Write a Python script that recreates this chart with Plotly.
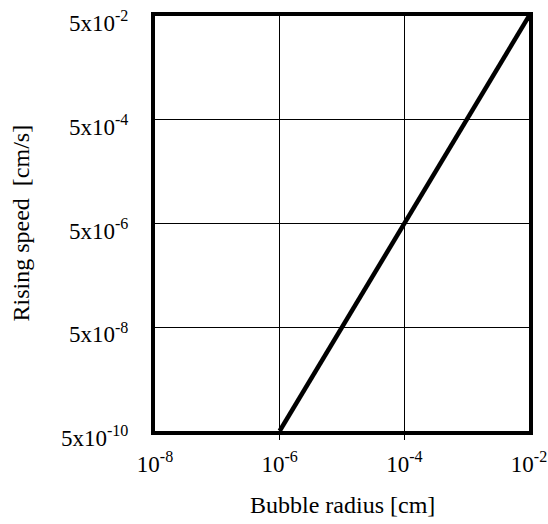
import plotly.graph_objects as go

# Data
radius_cm = [1e-6, 1e-2]
speed_cm_s = [5e-10, 5e-2]

x_tickvals = [1e-8, 1e-6, 1e-4, 1e-2]
x_ticktext = ["10<sup>-8</sup>", "10<sup>-6</sup>", "10<sup>-4</sup>", "10<sup>-2</sup>"]
x_inner_ticks = [1e-6, 1e-4]
y_tickvals = [5e-10, 5e-8, 5e-6, 5e-4, 5e-2]
y_ticktext = ["5x10<sup>-10</sup>", "5x10<sup>-8</sup>", "5x10<sup>-6</sup>",
              "5x10<sup>-4</sup>", "5x10<sup>-2</sup>"]
x_title = "Bubble radius [cm]"
y_title = "Rising speed\u00a0 [cm/s]"

FONT = "Liberation Serif"
FS = 23
FS_TITLE = 24

fig = go.Figure()
fig.add_trace(go.Scatter(x=radius_cm, y=speed_cm_s, mode="lines",
                         line=dict(color="black", width=4.5),
                         hoverinfo="skip", showlegend=False, cliponaxis=False))
# invisible trace so the tick-only overlay axis is drawn
fig.add_trace(go.Scatter(x=radius_cm, y=speed_cm_s, mode="lines", xaxis="x2",
                         line=dict(color="rgba(0,0,0,0)", width=0),
                         hoverinfo="skip", showlegend=False))

fig.update_layout(
    width=548, height=524,
    margin=dict(l=155, r=19, t=16, b=93),
    paper_bgcolor="white", plot_bgcolor="white",
    font=dict(family=FONT, color="black", size=FS),
    xaxis=dict(type="log", range=[-8, -2], tickvals=x_tickvals, ticktext=x_ticktext,
               showgrid=True, gridcolor="black", gridwidth=1,
               showline=True, linecolor="black", linewidth=4, mirror=True,
               ticks="", zeroline=False, ticklabelstandoff=9, automargin=False,
               ticklabeloverflow="allow",
               tickfont=dict(family=FONT, size=FS)),
    xaxis2=dict(type="log", range=[-8, -2], overlaying="x", anchor="y", side="bottom",
                tickvals=x_inner_ticks, ticks="outside", ticklen=8, tickwidth=1,
                tickcolor="black", showticklabels=False, showgrid=False,
                showline=False, zeroline=False, automargin=False),
    yaxis=dict(type="log", range=[-9.30103, -1.30103], tickvals=y_tickvals, ticktext=y_ticktext,
               showgrid=True, gridcolor="black", gridwidth=1,
               showline=True, linecolor="black", linewidth=4, mirror=True,
               ticks="", zeroline=False, ticklabelstandoff=18, ticklabelshift=7,
               automargin=False, ticklabeloverflow="allow",
               tickfont=dict(family=FONT, size=FS)),
    annotations=[
        dict(text=x_title, xref="paper", yref="paper", x=0.5, y=0, xanchor="center",
             yanchor="middle", yshift=-74, showarrow=False,
             font=dict(family=FONT, size=FS_TITLE, color="black")),
        dict(text=y_title, xref="paper", yref="paper", x=0, y=0.5, xanchor="center",
             yanchor="middle", xshift=-135, textangle=-90, showarrow=False,
             font=dict(family=FONT, size=FS_TITLE, color="black")),
    ],
)

fig.write_html(
    "out.html",
    config={"displayModeBar": False},
    post_script="document.body.style.margin='0';document.body.style.overflow='hidden';",
)
